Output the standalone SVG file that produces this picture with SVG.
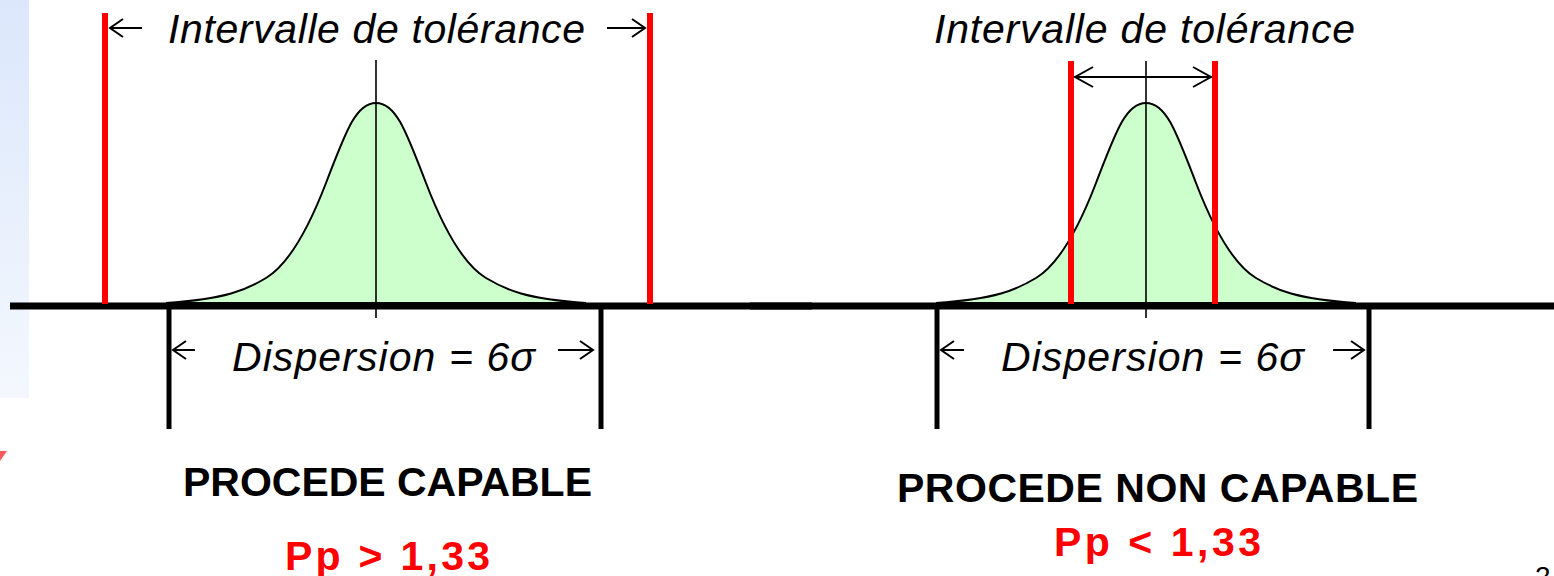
<svg xmlns="http://www.w3.org/2000/svg" width="1554" height="576" viewBox="0 0 1554 576">
<style>
.t{font-family:"Liberation Sans",Arial,sans-serif;font-style:italic;font-size:41px;fill:#000}
.b{font-family:"Liberation Sans",Arial,sans-serif;font-weight:bold;font-size:41px;fill:#000}
.r{fill:#ff0000}
.bell{fill:#ccffcc;stroke:#000;stroke-width:2}
.axis{stroke:#000;stroke-width:7;fill:none}
.brk{stroke:#000;stroke-width:5;fill:none}
.lim{stroke:#ff0000;stroke-width:6;fill:none}
.mid{stroke:#000;stroke-width:1.6;fill:none}
.arr{stroke:#000;stroke-width:2;fill:none;marker-end:url(#ah)}
.arr2{stroke:#000;stroke-width:2;fill:none;marker-start:url(#ah2);marker-end:url(#ah2)}
</style>
<defs>
<linearGradient id="bg" x1="0" y1="0" x2="0" y2="1">
<stop offset="0" stop-color="#dbe7fb"/>
<stop offset="1" stop-color="#f4f8fe"/>
</linearGradient>
<marker id="ah" viewBox="-16 -11 18 22" refX="0" refY="0" markerWidth="18" markerHeight="22" markerUnits="userSpaceOnUse" orient="auto">
<path d="M-13,-9 L0,0 L-13,9" fill="none" stroke="#000" stroke-width="2"/>
</marker>
<marker id="ah2" viewBox="-20 -12 22 24" refX="0" refY="0" markerWidth="22" markerHeight="24" markerUnits="userSpaceOnUse" orient="auto-start-reverse">
<path d="M-18,-10 L0,0 L-18,10" fill="none" stroke="#000" stroke-width="2"/>
</marker>
<path id="curve" d="M-210,303 C-150,299 -130,290 -110,278 C-85,263 -65,222 -50,183 C-30,131 -20,103 0,103 C20,103 30,131 50,183 C65,222 85,263 110,278 C130,290 150,299 210,303 Z"/>
</defs>
<rect x="0" y="0" width="29" height="398" fill="url(#bg)"/>
<path d="M0,451 L7,451 L0,461 Z" fill="#ff5a5a"/>

<g id="capable">
<use href="#curve" class="bell" transform="translate(376,0)"/>
<line class="mid" x1="376" y1="60" x2="376" y2="318"/>
<line class="axis" x1="10" y1="306" x2="812" y2="306"/>
<line class="lim" x1="105" y1="13" x2="105" y2="304"/>
<line class="lim" x1="650" y1="13" x2="650" y2="304"/>
<line class="brk" x1="169" y1="306" x2="169" y2="429"/>
<line class="brk" x1="601" y1="306" x2="601" y2="429"/>
<text class="t" x="168" y="43" textLength="417">Intervalle de tolérance</text>
<text class="t" x="232" y="371" textLength="303">Dispersion = 6σ</text>
<text class="b" x="183" y="496" textLength="409">PROCEDE CAPABLE</text>
<text class="b r" x="285" y="570" textLength="205">Pp &gt; 1,33</text>
</g>

<g id="non-capable">
<use href="#curve" class="bell" transform="translate(1146,0)"/>
<line class="mid" x1="1146" y1="61" x2="1146" y2="318"/>
<line class="axis" x1="750" y1="306" x2="1554" y2="306"/>
<line class="lim" x1="1071" y1="61" x2="1071" y2="304"/>
<line class="lim" x1="1215" y1="61" x2="1215" y2="304"/>
<line class="brk" x1="937" y1="306" x2="937" y2="429"/>
<line class="brk" x1="1369" y1="306" x2="1369" y2="429"/>
<text class="t" x="934" y="43" textLength="421">Intervalle de tolérance</text>
<text class="t" x="1001" y="371" textLength="303">Dispersion = 6σ</text>
<text class="b" x="897" y="502" textLength="521">PROCEDE NON CAPABLE</text>
<text class="b r" x="1054" y="556" textLength="207">Pp &lt; 1,33</text>
</g>

<g id="connectors">
<line class="arr" x1="142" y1="28" x2="110" y2="28"/>
<line class="arr" x1="607" y1="28" x2="645" y2="28"/>
<line class="arr" x1="195" y1="350" x2="173" y2="350"/>
<line class="arr" x1="558" y1="350" x2="593" y2="350"/>
<line class="arr" x1="964" y1="350" x2="941" y2="350"/>
<line class="arr" x1="1333" y1="350" x2="1364" y2="350"/>
<line class="arr2" x1="1075" y1="77" x2="1211" y2="77"/>
</g>

<text x="1535" y="586" style="font-family:'Liberation Sans',Arial,sans-serif;font-size:28px;fill:#000">2</text>
</svg>
